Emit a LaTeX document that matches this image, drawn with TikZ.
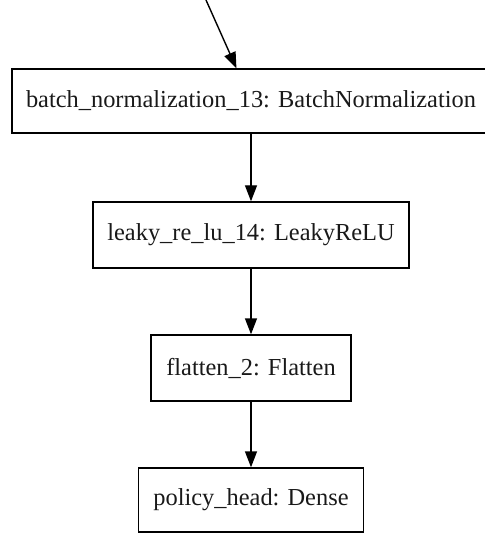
\documentclass[tikz,border=0pt]{standalone}
\usepackage{fontspec}
\setmainfont{Liberation Serif}
\usetikzlibrary{arrows.meta}
\begin{document}
\begin{tikzpicture}[x=1pt,y=-1pt,
  layer/.style={draw=black, line width=1.4pt, rectangle, inner sep=0pt,
    font=\fontsize{24.4}{28}\selectfont, text=black!90},
  flow/.style={draw=black, line width=1.4pt,
    -{Triangle[length=16pt,width=12pt]}}]
  \useasboundingbox (0,0) rectangle (484,534);
  \node[layer, minimum width=478pt, minimum height=64pt] (bn) at (251,101)
    {batch\_normalization\_13: BatchNormalization};
  \node[layer, minimum width=316pt, minimum height=66pt] (lrelu) at (251,235)
    {leaky\_re\_lu\_14: LeakyReLU};
  \node[layer, minimum width=200pt, minimum height=66pt] (flat) at (251,368)
    {flatten\_2: Flatten};
  \node[layer, minimum width=225pt, minimum height=64pt] (head) at (251,500)
    {policy\_head: Dense};
  \coordinate (src) at (206,0);
  \draw[flow] (src) -- (bn);
  \draw[flow] (bn.south) -- (lrelu.north);
  \draw[flow] (lrelu.south) -- (flat.north);
  \draw[flow] (flat.south) -- (head.north);
\end{tikzpicture}
\end{document}
